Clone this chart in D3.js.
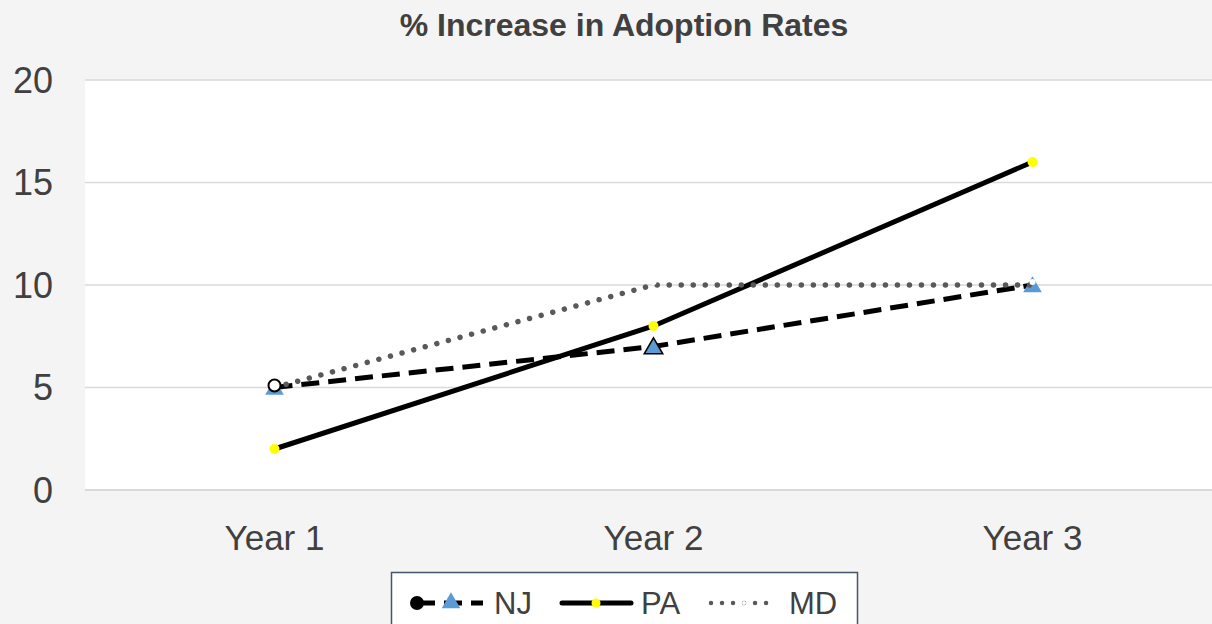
<!DOCTYPE html>
<html>
<head>
<meta charset="utf-8">
<script src="https://cdn.jsdelivr.net/npm/d3@7"></script>
<style>
  html, body { margin: 0; padding: 0; background: #f4f4f4; }
  svg { display: block; font-family: "Liberation Sans", Arial, sans-serif; }
</style>
</head>
<body>
<svg id="chart" width="1212" height="624"></svg>
<script>
const categories = ["Year 1", "Year 2", "Year 3"];
const njValues = [5, 7, 10];
const paValues = [2, 8, 16];
const mdValues = [5, 10, 10];
const yTicks = [0, 5, 10, 15, 20];
const seriesNames = ["NJ", "PA", "MD"];
const chartTitle = "% Increase in Adoption Rates";

const W = 1212, H = 624;
const plot = { left: 85, right: 1222, top: 80, bottom: 490 };
const svg = d3.select("#chart");

svg.append("rect").attr("width", W).attr("height", H).attr("fill", "#f4f4f4");
svg.append("rect")
  .attr("x", plot.left).attr("y", plot.top)
  .attr("width", W - plot.left).attr("height", plot.bottom - plot.top)
  .attr("fill", "#ffffff");

const x = d3.scalePoint().domain(categories).range([plot.left, plot.right]).padding(0.5);
const y = d3.scaleLinear().domain([0, 20]).range([plot.bottom, plot.top]);

// gridlines
svg.append("g").selectAll("line").data(yTicks).join("line")
  .attr("x1", plot.left).attr("x2", W)
  .attr("y1", d => y(d)).attr("y2", d => y(d))
  .attr("stroke", "#d9d9d9")
  .attr("stroke-width", d => d === 0 ? 2 : 1.5);

// y labels
svg.append("g").selectAll("text").data(yTicks).join("text")
  .attr("x", 53).attr("y", d => y(d)).attr("dy", "0.36em")
  .attr("text-anchor", "end")
  .attr("font-size", 36).attr("fill", "#404040")
  .text(d => d);

// x labels
svg.append("g").selectAll("text").data(categories).join("text")
  .attr("x", d => x(d)).attr("y", 550)
  .attr("text-anchor", "middle")
  .attr("font-size", 35).attr("fill", "#404040")
  .text(d => d);

// title
svg.append("text").attr("x", 624).attr("y", 36)
  .attr("text-anchor", "middle").attr("font-size", 32).attr("font-weight", "bold")
  .attr("fill", "#404040").text(chartTitle);

const line = d3.line().x((d, i) => x(categories[i])).y(d => y(d));

// PA line
svg.append("path").datum(paValues).attr("d", line)
  .attr("fill", "none").attr("stroke", "#000").attr("stroke-width", 5);
// NJ line
svg.append("path").datum(njValues).attr("d", line)
  .attr("fill", "none").attr("stroke", "#000").attr("stroke-width", 5)
  .attr("stroke-dasharray", "18,9");

// NJ triangles
const tri = d3.symbol().type(d3.symbolTriangle).size(150);
svg.append("g").selectAll("path").data(njValues).join("path")
  .attr("d", tri)
  .attr("transform", (d, i) => `translate(${x(categories[i])},${y(d) + 2})`)
  .attr("fill", "#5b9bd5")
  .attr("stroke", (d, i) => i === 1 ? "#000" : "none")
  .attr("stroke-width", 1.5);

// PA markers
svg.append("g").selectAll("circle").data(paValues).join("circle")
  .attr("cx", (d, i) => x(categories[i])).attr("cy", d => y(d))
  .attr("r", 5).attr("fill", "#ffff00");

// MD line
svg.append("path").datum(mdValues).attr("d", line)
  .attr("fill", "none").attr("stroke", "#595959").attr("stroke-width", 5.5)
  .attr("stroke-linecap", "round").attr("stroke-dasharray", "0.01,12");

// MD markers
svg.append("g").selectAll("circle").data(mdValues).join("circle")
  .attr("cx", (d, i) => x(categories[i])).attr("cy", (d, i) => y(d) - (i === 0 ? 2 : 3))
  .attr("r", (d, i) => i === 0 ? 6 : 3)
  .attr("fill", "#ffffff")
  .attr("stroke", (d, i) => i === 0 ? "#000" : "none")
  .attr("stroke-width", 2);

// legend
const lg = svg.append("g");
lg.append("rect").attr("x", 391.5).attr("y", 572.5).attr("width", 466).attr("height", 60)
  .attr("fill", "#ffffff").attr("stroke", "#44546a").attr("stroke-width", 1.5);
const ly = 603;
// NJ
lg.append("line").attr("x1", 417).attr("x2", 483).attr("y1", ly).attr("y2", ly)
  .attr("stroke", "#000").attr("stroke-width", 5).attr("stroke-dasharray", "18,9");
lg.append("circle").attr("cx", 417).attr("cy", ly).attr("r", 7).attr("fill", "#000");
lg.append("path").attr("d", tri).attr("transform", `translate(451,${ly})`).attr("fill", "#5b9bd5");
// PA
lg.append("line").attr("x1", 562).attr("x2", 631).attr("y1", ly).attr("y2", ly)
  .attr("stroke", "#000").attr("stroke-width", 5).attr("stroke-linecap", "round");
lg.append("circle").attr("cx", 596).attr("cy", ly).attr("r", 4.5).attr("fill", "#ffff00");
// MD
lg.append("line").attr("x1", 711).attr("x2", 777).attr("y1", ly).attr("y2", ly)
  .attr("stroke", "#595959").attr("stroke-width", 4.5).attr("stroke-linecap", "round")
  .attr("stroke-dasharray", "0.01,11");
lg.append("circle").attr("cx", 744).attr("cy", ly).attr("r", 2).attr("fill", "#ffffff");

const legendTextX = [494, 641, 789];
lg.selectAll("text.lab").data(seriesNames).join("text").attr("class", "lab")
  .attr("x", (d, i) => legendTextX[i]).attr("y", ly).attr("dy", "0.36em")
  .attr("font-size", 31).attr("fill", "#404040").text(d => d);
</script>
</body>
</html>
